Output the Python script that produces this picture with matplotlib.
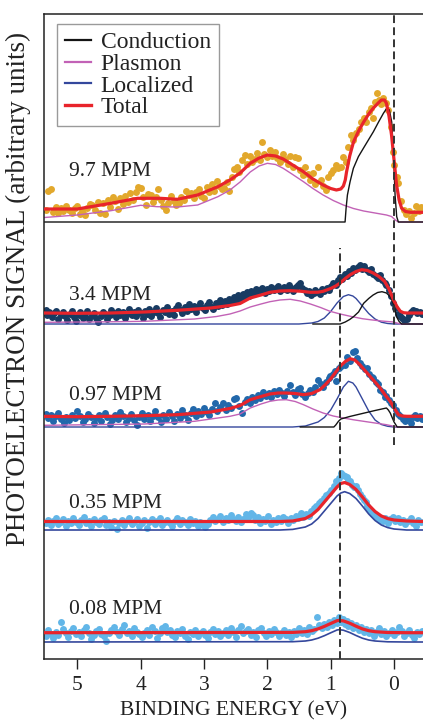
import matplotlib
matplotlib.use("Agg")
import matplotlib.pyplot as plt
from matplotlib.lines import Line2D

plt.rcParams['font.family'] = ['Liberation Serif', 'DejaVu Serif']

# ---------------- data ----------------
trace_labels = ["9.7 MPM", "3.4 MPM", "0.97 MPM", "0.35 MPM", "0.08 MPM"]
offsets = [437, 335, 232, 129, 17]
label_y = [487, 364, 264, 156, 50]
label_x = 5.13
xticks = [5, 4, 3, 2, 1, 0]
dash_x = [0.0, 0.85]
dash_ymin = [214, 0]
dash_ymax = [645, 411]

# ---- 9.7 MPM ----
c97_x = [5.52, 0.773, 0.757, 0.736, 0.694, 0.642, 0.563, 0.484, 0.405, 0.326, 0.247, 0.168, 0.115, 0.074, 0.037, 0.01, -0.016, -0.042, -0.068, -0.46]
c97_h = [0, 0, 13.7, 27, 40.3, 53.7, 65.3, 73.7, 82, 90.3, 99.7, 108.7, 113.7, 112, 100, 70, 27, 5.3, 0, 0]
p97_x = [5.52, 5.0, 4.47, 4.0, 3.74, 3.42, 3.1, 2.78, 2.59, 2.43, 2.27, 2.13, 2.0, 1.87, 1.75, 1.6, 1.43, 1.28, 1.12, 0.96, 0.8, 0.64, 0.48, 0.3, 0.12, 0.04, -0.02, -0.07, -0.46]
p97_h = [4.5, 7, 11.3, 16.7, 15.3, 15, 17, 25.3, 32, 40, 50, 56, 58.7, 57.5, 53.7, 47.5, 40.3, 33.5, 27, 21.5, 17, 13.5, 11, 9, 7, 5.5, 2, 0, 0]
t97_x = [5.52, 5.0, 4.47, 4.05, 3.69, 3.42, 3.1, 2.78, 2.59, 2.43, 2.27, 2.13, 2.0, 1.87, 1.75, 1.6, 1.43, 1.28, 1.12, 1.0, 0.91, 0.84, 0.8, 0.77, 0.75, 0.7, 0.64, 0.56, 0.48, 0.4, 0.33, 0.25, 0.2, 0.15, 0.12, 0.08, 0.04, 0.0, -0.04, -0.08, -0.12, -0.18, -0.26, -0.46]
t97_h = [13, 13, 18.7, 23.7, 23.7, 22.7, 27, 35.3, 42, 49, 58.7, 64, 67, 66, 63, 57, 50.3, 43, 37, 33.5, 32, 33, 36, 42, 50, 66, 80, 91, 100, 108, 113.7, 119, 122, 122, 118.7, 106, 87, 62, 37, 22, 13.7, 10.5, 9.7, 9.7]
pts97 = [(5.50, 12), (5.46, 31), (5.42, 33), (5.38, 10), (5.34, 15), (5.30, 9), (5.26, 14), (5.22, 11), (5.17, 16), (5.13, 12), (5.08, 9), (5.04, 14), (5.00, 16), (4.96, 8), (4.92, 11), (4.88, 7), (4.84, 14), (4.80, 18), (4.76, 17), (4.72, 12), (4.68, 20), (4.64, 9), (4.60, 19), (4.56, 8), (4.52, 22), (4.48, 15), (4.44, 25), (4.40, 21), (4.36, 13), (4.32, 24), (4.28, 18), (4.24, 26), (4.20, 20), (4.16, 29), (4.12, 22), (4.08, 30), (4.04, 35), (4.00, 34), (3.96, 25), (3.92, 17), (3.88, 28), (3.84, 27), (3.80, 20), (3.76, 25), (3.72, 33), (3.68, 22), (3.64, 16), (3.60, 12), (3.56, 19), (3.52, 26), (3.48, 21), (3.44, 17), (3.40, 19), (3.36, 25), (3.32, 22), (3.28, 31), (3.24, 27), (3.20, 29), (3.16, 24), (3.12, 30), (3.08, 33), (3.04, 26), (3.00, 24), (2.96, 35), (2.92, 30), (2.88, 38), (2.84, 31), (2.80, 41), (2.76, 36), (2.72, 33), (2.68, 34), (2.64, 40), (2.60, 31), (2.56, 45), (2.52, 53), (2.48, 55), (2.44, 50), (2.40, 62), (2.36, 67), (2.32, 58), (2.28, 66), (2.24, 60), (2.20, 63), (2.16, 69), (2.12, 62), (2.09, 80), (2.05, 68), (2.00, 65), (1.96, 72), (1.92, 66), (1.88, 70), (1.84, 64), (1.80, 60), (1.76, 68), (1.72, 63), (1.68, 58), (1.64, 66), (1.60, 55), (1.56, 65), (1.52, 64), (1.48, 52), (1.44, 47), (1.40, 55), (1.36, 48), (1.32, 42), (1.28, 49), (1.24, 38), (1.20, 55), (1.16, 42), (1.12, 36), (1.08, 32), (1.04, 45), (1.00, 49), (0.96, 52), (0.92, 57), (0.88, 54), (0.84, 55), (0.80, 65), (0.76, 60), (0.72, 75), (0.68, 87), (0.64, 82), (0.60, 89), (0.56, 93), (0.52, 100), (0.48, 104), (0.44, 100), (0.40, 110), (0.37, 114), (0.33, 104), (0.30, 120), (0.27, 129), (0.24, 122), (0.20, 118), (0.17, 124), (0.13, 119), (0.09, 112), (0.05, 95), (0.02, 70), (0.00, 57), (-0.04, 45), (-0.07, 39), (-0.11, 21), (-0.15, 12), (-0.19, 8), (-0.23, 11), (-0.27, 4), (-0.31, 9), (-0.35, 16), (-0.39, 11), (-0.43, 15)]

# ---- 3.4 MPM ----
l34_x = [5.52, 1.5, 1.3, 1.2, 1.1, 1.0, 0.9, 0.8, 0.72, 0.65, 0.6, 0.5, 0.4, 0.3, 0.2, 0.1, 0.0, -0.46]
l34_h = [0, 0, 1, 2.5, 6, 12.5, 21, 27.5, 29.3, 28, 25.5, 18, 10.5, 5, 1.8, 0.5, 0, 0]
c34_x = [1.28, 0.85, 0.77, 0.70, 0.64, 0.56, 0.48, 0.40, 0.33, 0.26, 0.19, 0.12, 0.06, 0.02, 0.0, -0.04, -0.08, -0.12, -0.46]
c34_h = [0, 0, 2, 4.5, 7.3, 12, 20.7, 25.5, 29, 31.5, 32.3, 31, 27.3, 22, 18, 7.3, 2.5, 0, 0]
p34_x = [5.52, 4.5, 3.94, 3.15, 2.8, 2.59, 2.43, 2.27, 2.1, 1.96, 1.8, 1.64, 1.48, 1.32, 1.16, 1.01, 0.85, 0.69, 0.5, 0.38, 0.2, 0.01, -0.1, -0.46]
p34_h = [1.7, 2.2, 2.7, 5, 7.5, 10, 13, 17, 20, 22.3, 24, 24.7, 23, 20, 16.5, 12.7, 10, 7.7, 5.3, 4.3, 3, 2, 0, 0]
t34_x = [5.52, 5.0, 4.47, 3.94, 3.42, 2.89, 2.59, 2.43, 2.27, 2.1, 1.96, 1.8, 1.64, 1.48, 1.32, 1.2, 1.12, 1.0, 0.92, 0.85, 0.77, 0.69, 0.6, 0.51, 0.42, 0.33, 0.24, 0.15, 0.08, 0.01, -0.05, -0.1, -0.15, -0.2, -0.46]
t34_h = [11, 10.7, 11, 12, 13.7, 16, 18.5, 20.5, 26, 29, 31.7, 33, 33.3, 32.8, 31.7, 31.8, 32.7, 35.5, 38, 41, 45.5, 49.3, 52.5, 54.3, 53.5, 51, 47.5, 42.7, 35, 24.3, 17, 12.7, 11.3, 11, 11]
pts34 = [(5.50, 14), (5.47, 9), (5.44, 12), (5.40, 7), (5.37, 11), (5.33, 13), (5.30, 5), (5.26, 9), (5.23, 12), (5.19, 8), (5.16, 4), (5.12, 10), (5.09, 13), (5.05, 7), (5.02, 3), (4.98, 9), (4.95, 12), (4.91, 6), (4.88, 8), (4.84, 13), (4.81, 5), (4.77, 9), (4.74, 11), (4.70, 6), (4.67, 2), (4.63, 8), (4.60, 12), (4.56, 10), (4.53, 5), (4.49, 9), (4.46, 14), (4.42, 11), (4.39, 7), (4.35, 13), (4.32, 9), (4.28, 12), (4.25, 6), (4.21, 10), (4.18, 15), (4.14, 9), (4.11, 12), (4.07, 8), (4.04, 14), (4.00, 11), (3.97, 6), (3.93, 13), (3.90, 10), (3.86, 15), (3.83, 8), (3.79, 12), (3.76, 16), (3.72, 11), (3.69, 7), (3.65, 14), (3.62, 12), (3.58, 17), (3.55, 10), (3.51, 13), (3.48, 9), (3.44, 16), (3.41, 19), (3.37, 14), (3.34, 11), (3.30, 17), (3.27, 13), (3.23, 20), (3.20, 15), (3.16, 18), (3.13, 12), (3.09, 17), (3.06, 21), (3.02, 16), (2.99, 14), (2.95, 19), (2.92, 22), (2.88, 17), (2.85, 15), (2.81, 21), (2.78, 18), (2.74, 24), (2.71, 19), (2.67, 23), (2.64, 20), (2.60, 25), (2.57, 22), (2.53, 27), (2.50, 24), (2.46, 29), (2.43, 26), (2.39, 30), (2.36, 27), (2.32, 32), (2.29, 28), (2.25, 33), (2.22, 30), (2.18, 35), (2.15, 32), (2.11, 34), (2.08, 36), (2.04, 31), (2.01, 35), (1.97, 33), (1.94, 37), (1.90, 34), (1.87, 36), (1.83, 38), (1.80, 33), (1.76, 35), (1.73, 37), (1.69, 34), (1.66, 39), (1.62, 36), (1.59, 33), (1.55, 37), (1.52, 39), (1.48, 41), (1.45, 36), (1.41, 34), (1.38, 31), (1.34, 33), (1.31, 29), (1.27, 31), (1.24, 34), (1.20, 32), (1.17, 30), (1.13, 35), (1.10, 33), (1.06, 36), (1.03, 34), (0.99, 38), (0.96, 41), (0.92, 39), (0.89, 44), (0.85, 47), (0.82, 45), (0.78, 50), (0.75, 48), (0.71, 53), (0.68, 51), (0.64, 56), (0.61, 54), (0.57, 57), (0.54, 59), (0.50, 55), (0.47, 58), (0.43, 54), (0.40, 52), (0.36, 55), (0.33, 50), (0.29, 48), (0.26, 46), (0.22, 49), (0.19, 44), (0.15, 41), (0.12, 39), (0.08, 34), (0.05, 28), (0.01, 21), (-0.02, 16), (-0.06, 10), (-0.09, 8), (-0.13, 6), (-0.16, 4), (-0.20, 5), (-0.23, 9), (-0.27, 12), (-0.30, 14), (-0.34, 13), (-0.37, 11), (-0.41, 12), (-0.44, 10)]

# ---- 0.97 MPM ----
l097_x = [5.52, 1.6, 1.4, 1.2, 1.1, 1.0, 0.9, 0.8, 0.72, 0.65, 0.6, 0.5, 0.4, 0.3, 0.2, 0.1, 0.0, -0.46]
l097_h = [0, 0, 1, 5, 9.5, 17, 28, 40, 45.7, 44, 40, 28, 16, 7, 2.5, 0.7, 0, 0]
c097_x = [1.48, 0.95, 0.92, 0.88, 0.84, 0.7, 0.5, 0.3, 0.12, 0.09, 0.06, 0.03, 0.0, -0.05, -0.46]
c097_h = [0, 0, 2, 5.5, 8, 10.5, 13.5, 16.5, 19, 17, 14, 9.5, 5, 0, 0]
p097_x = [5.52, 3.94, 3.15, 2.59, 2.43, 2.27, 2.1, 1.96, 1.83, 1.7, 1.56, 1.43, 1.28, 1.12, 0.96, 0.8, 0.64, 0.48, 0.3, 0.12, -0.05, -0.46]
p097_h = [1.7, 3, 5.7, 10.7, 13, 19, 23, 25.7, 27, 27.3, 25.5, 22.3, 18, 14, 11, 9, 7.2, 5.7, 4, 2.3, 0, 0]
t097_x = [5.52, 5.0, 4.47, 3.94, 3.42, 2.89, 2.59, 2.43, 2.27, 2.1, 1.96, 1.83, 1.7, 1.56, 1.43, 1.3, 1.17, 1.09, 1.01, 0.93, 0.85, 0.77, 0.69, 0.62, 0.54, 0.46, 0.38, 0.3, 0.22, 0.14, 0.06, 0.0, -0.07, -0.13, -0.2, -0.46]
t097_h = [10.7, 10.3, 10.7, 11.3, 12.3, 15, 18.5, 21.5, 27.3, 30.5, 33, 34, 34, 33.5, 32.3, 33.5, 37.3, 42, 47.3, 54, 60.7, 65.5, 68.3, 67, 62.3, 56.5, 50.7, 45, 39, 32, 25.7, 19, 12.3, 11, 10.7, 10.7]
pts097 = [(5.50, 13), (5.46, 9), (5.42, 12), (5.38, 6), (5.34, 11), (5.30, 14), (5.25, 8), (5.21, 4), (5.17, 10), (5.13, 7), (5.08, 12), (5.04, 9), (5.00, 16), (4.96, 11), (4.91, 5), (4.87, 8), (4.83, 13), (4.79, 10), (4.74, 4), (4.70, 9), (4.66, 12), (4.62, 6), (4.57, 14), (4.53, 10), (4.49, 3), (4.45, 7), (4.40, 12), (4.36, 8), (4.32, 15), (4.28, 11), (4.23, 5), (4.19, 9), (4.15, 13), (4.11, 7), (4.06, 2), (4.02, 10), (3.98, 14), (3.94, 8), (3.89, 12), (3.85, 6), (3.81, 11), (3.77, 16), (3.72, 10), (3.68, 5), (3.64, 12), (3.60, 8), (3.55, 15), (3.51, 11), (3.47, 6), (3.43, 13), (3.38, 9), (3.34, 17), (3.30, 12), (3.26, 7), (3.21, 14), (3.17, 18), (3.13, 11), (3.09, 16), (3.04, 13), (3.00, 19), (2.96, 15), (2.92, 12), (2.87, 18), (2.83, 24), (2.79, 16), (2.75, 20), (2.70, 24), (2.66, 17), (2.62, 22), (2.58, 19), (2.53, 28), (2.50, 29), (2.45, 21), (2.40, 14), (2.36, 25), (2.32, 28), (2.28, 24), (2.24, 30), (2.19, 27), (2.15, 32), (2.11, 29), (2.07, 35), (2.02, 31), (1.98, 34), (1.94, 30), (1.90, 36), (1.85, 33), (1.81, 37), (1.77, 34), (1.73, 31), (1.69, 36), (1.64, 42), (1.60, 35), (1.56, 32), (1.52, 38), (1.49, 39), (1.45, 33), (1.41, 30), (1.36, 34), (1.32, 37), (1.28, 35), (1.24, 40), (1.20, 47), (1.16, 43), (1.12, 40), (1.07, 45), (1.03, 49), (1.01, 51), (0.97, 53), (0.93, 56), (0.91, 46), (0.87, 59), (0.83, 61), (0.78, 62), (0.74, 70), (0.69, 66), (0.65, 75), (0.62, 76), (0.58, 69), (0.54, 64), (0.50, 61), (0.46, 58), (0.43, 59), (0.39, 53), (0.35, 50), (0.33, 49), (0.29, 45), (0.26, 43), (0.22, 37), (0.18, 35), (0.15, 30), (0.12, 31), (0.08, 27), (0.05, 24), (0.01, 22), (-0.03, 17), (-0.06, 13), (-0.10, 11), (-0.14, 8), (-0.18, 6), (-0.22, 9), (-0.26, 4), (-0.30, 10), (-0.33, 12), (-0.37, 9), (-0.41, 11), (-0.44, 8)]

# ---- 0.35 MPM ----
l035_x = [5.52, 1.8, 1.6, 1.4, 1.3, 1.2, 1.1, 1.0, 0.9, 0.84, 0.78, 0.7, 0.6, 0.5, 0.4, 0.3, 0.2, 0.1, 0.0, -0.2, -0.46]
l035_h = [0, 0, 0.6, 3, 6, 11.5, 19, 26.5, 34, 37, 38.3, 36.5, 31.5, 24, 16, 9.5, 5, 2.4, 1, 0, 0]
t035_h = [8.5, 8.5, 9, 11.5, 15, 20.5, 28, 35.5, 43, 46.5, 47.5, 45.5, 40.5, 33, 25, 18.5, 14, 11.4, 10, 9, 8.5]
pts035 = [(5.50, 7), (5.46, 10), (5.42, 5), (5.38, 9), (5.34, 12), (5.30, 6), (5.26, 8), (5.22, 11), (5.18, 4), (5.14, 9), (5.10, 7), (5.06, 12), (5.02, 8), (4.98, 5), (4.94, 10), (4.90, 13), (4.86, 7), (4.82, 9), (4.78, 4), (4.74, 11), (4.70, 8), (4.66, 6), (4.62, 10), (4.58, 12), (4.54, 5), (4.50, 8), (4.46, 3), (4.42, 9), (4.38, 1), (4.34, 7), (4.30, 10), (4.26, 5), (4.22, 9), (4.18, 12), (4.14, 6), (4.10, 8), (4.06, 11), (4.02, 4), (3.98, 7), (3.94, 10), (3.90, 2), (3.86, 8), (3.82, 11), (3.78, 6), (3.74, 9), (3.70, 12), (3.66, 5), (3.62, 8), (3.58, 10), (3.54, 7), (3.50, 4), (3.46, 9), (3.42, 12), (3.38, 6), (3.34, 10), (3.30, 8), (3.26, 5), (3.22, 11), (3.18, 7), (3.14, 9), (3.10, 4), (3.06, 8), (3.02, 5), (2.98, 3), (2.94, 6), (2.90, 10), (2.86, 13), (2.82, 9), (2.78, 11), (2.74, 14), (2.70, 8), (2.66, 12), (2.62, 10), (2.58, 15), (2.54, 11), (2.50, 9), (2.46, 13), (2.42, 8), (2.38, 11), (2.34, 16), (2.30, 12), (2.26, 17), (2.23, 15), (2.19, 10), (2.15, 13), (2.11, 7), (2.07, 11), (2.03, 9), (1.99, 14), (1.95, 6), (1.91, 10), (1.87, 8), (1.83, 12), (1.79, 9), (1.75, 13), (1.71, 11), (1.67, 7), (1.63, 12), (1.59, 10), (1.55, 14), (1.51, 12), (1.47, 17), (1.43, 13), (1.39, 16), (1.35, 14), (1.31, 19), (1.27, 22), (1.23, 24), (1.19, 27), (1.15, 29), (1.11, 32), (1.07, 35), (1.03, 37), (0.99, 40), (0.95, 44), (0.91, 49), (0.87, 52), (0.84, 57), (0.81, 55), (0.78, 54), (0.75, 53), (0.72, 50), (0.69, 49), (0.66, 45), (0.63, 43), (0.60, 44), (0.57, 40), (0.54, 36), (0.51, 33), (0.48, 30), (0.45, 28), (0.42, 24), (0.39, 21), (0.36, 19), (0.33, 16), (0.30, 14), (0.26, 12), (0.22, 10), (0.18, 9), (0.14, 12), (0.10, 7), (0.06, 11), (0.02, 13), (-0.02, 9), (-0.06, 12), (-0.10, 8), (-0.14, 10), (-0.18, 6), (-0.22, 9), (-0.26, 12), (-0.30, 7), (-0.34, 4), (-0.38, 10), (-0.42, 8)]

# ---- 0.08 MPM ----
l008_x = [5.52, 1.6, 1.4, 1.3, 1.2, 1.1, 1.0, 0.9, 0.87, 0.8, 0.7, 0.6, 0.5, 0.4, 0.3, 0.1, -0.2, -0.46]
l008_h = [0, 0.3, 1, 2, 3.8, 6.3, 9.2, 12, 12.3, 11.8, 9.5, 6.5, 3.8, 2, 1, 0.2, 0, 0]
t008_h = [9.3, 9.6, 10.3, 11.3, 13.1, 15.6, 18.5, 21.3, 21.6, 21.1, 18.8, 15.8, 13.1, 11.3, 10.3, 9.5, 9.3, 9.3]
pts008 = [(5.50, 6), (5.46, 12), (5.42, 8), (5.38, 4), (5.34, 10), (5.30, 7), (5.26, 20), (5.22, 13), (5.18, 9), (5.14, 5), (5.10, 11), (5.06, 14), (5.02, 8), (4.98, 10), (4.94, 6), (4.90, 12), (4.86, 15), (4.82, 9), (4.78, 3), (4.74, 7), (4.70, 11), (4.66, 13), (4.62, 8), (4.58, 6), (4.54, 1), (4.50, 9), (4.46, 12), (4.42, 15), (4.38, 10), (4.34, 7), (4.30, 13), (4.26, 17), (4.22, 9), (4.18, 11), (4.14, 6), (4.10, 14), (4.06, 10), (4.02, 8), (3.98, 5), (3.94, 9), (3.90, 12), (3.86, 7), (3.82, 15), (3.78, 11), (3.74, 4), (3.70, 9), (3.66, 14), (3.62, 16), (3.58, 10), (3.54, 12), (3.50, 7), (3.46, 5), (3.42, 11), (3.38, 9), (3.34, 13), (3.30, 6), (3.26, 3), (3.22, 10), (3.18, 8), (3.14, 12), (3.10, 6), (3.06, 9), (3.02, 11), (2.98, 7), (2.94, 4), (2.90, 10), (2.86, 13), (2.82, 8), (2.78, 11), (2.74, 6), (2.70, 9), (2.66, 12), (2.62, 7), (2.58, 14), (2.54, 10), (2.50, 5), (2.46, 12), (2.42, 16), (2.38, 9), (2.34, 11), (2.30, 13), (2.26, 7), (2.22, 10), (2.18, 5), (2.14, 12), (2.10, 14), (2.06, 9), (2.02, 6), (1.98, 11), (1.94, 8), (1.90, 13), (1.86, 10), (1.82, 6), (1.78, 9), (1.74, 12), (1.70, 7), (1.66, 10), (1.62, 5), (1.58, 11), (1.54, 8), (1.50, 14), (1.46, 9), (1.42, 12), (1.38, 8), (1.34, 15), (1.30, 11), (1.26, 13), (1.22, 25), (1.18, 17), (1.14, 14), (1.10, 18), (1.06, 15), (1.02, 20), (0.98, 17), (0.94, 22), (0.90, 19), (0.87, 25), (0.84, 20), (0.81, 23), (0.78, 18), (0.75, 21), (0.72, 16), (0.68, 19), (0.64, 14), (0.60, 17), (0.56, 12), (0.52, 15), (0.48, 10), (0.44, 13), (0.40, 9), (0.36, 12), (0.32, 6), (0.28, 10), (0.24, 14), (0.20, 8), (0.16, 11), (0.12, 6), (0.08, 9), (0.04, 12), (0.00, 7), (-0.04, 10), (-0.08, 15), (-0.12, 11), (-0.16, 6), (-0.20, 9), (-0.24, 12), (-0.28, 7), (-0.32, 4), (-0.36, 10), (-0.40, 8), (-0.44, 11)]

# ---------------- style ----------------
C_COND = '#141414'
C_PLAS = '#c262b6'
C_LOC = '#34479c'
C_TOT = '#e8242b'
dot_colors = ['#e2a82c', '#183b62', '#2268ab', '#62b6e8', '#62b6e8']
FS = 15.5

fig = plt.figure(figsize=(4.23, 7.21), dpi=100)
ax = fig.add_axes([44 / 423, 62 / 721, 1 - 44 / 423, 645 / 721])


def up(hs, off):
    return [h + off for h in hs]


def dots(pts, off, color):
    ax.scatter([p[0] for p in pts], [p[1] + off for p in pts], s=25,
               color=color, linewidths=0, zorder=1)


lw_c = 1.0
lw_t = 2.3

# 9.7
o = offsets[0]
dots(pts97, o, dot_colors[0])
ax.plot(p97_x, up(p97_h, o), color=C_PLAS, lw=lw_c, zorder=2)
ax.plot(c97_x, up(c97_h, o), color=C_COND, lw=lw_c, zorder=2)
ax.plot(t97_x, up(t97_h, o), color=C_TOT, lw=lw_t, zorder=3)

# 3.4
o = offsets[1]
dots(pts34, o, dot_colors[1])
ax.plot(l34_x, up(l34_h, o), color=C_LOC, lw=lw_c, zorder=2)
ax.plot(p34_x, up(p34_h, o), color=C_PLAS, lw=lw_c, zorder=2)
ax.plot(c34_x, up(c34_h, o), color=C_COND, lw=lw_c, zorder=2)
ax.plot(t34_x, up(t34_h, o), color=C_TOT, lw=lw_t, zorder=3)

# 0.97
o = offsets[2]
dots(pts097, o, dot_colors[2])
ax.plot(l097_x, up(l097_h, o), color=C_LOC, lw=lw_c, zorder=2)
ax.plot(p097_x, up(p097_h, o), color=C_PLAS, lw=lw_c, zorder=2)
ax.plot(c097_x, up(c097_h, o), color=C_COND, lw=lw_c, zorder=2)
ax.plot(t097_x, up(t097_h, o), color=C_TOT, lw=lw_t, zorder=3)

# 0.35
o = offsets[3]
dots(pts035, o, dot_colors[3])
ax.plot(l035_x, up(l035_h, o), color=C_LOC, lw=1.2, zorder=2)
ax.plot(l035_x, up(t035_h, o), color=C_TOT, lw=lw_t, zorder=3)

# 0.08
o = offsets[4]
dots(pts008, o, dot_colors[4])
ax.plot(l008_x, up(l008_h, o), color=C_LOC, lw=1.2, zorder=2)
ax.plot(l008_x, up(t008_h, o), color=C_TOT, lw=lw_t, zorder=3)

# dashed guide lines
for xd, y0, y1 in zip(dash_x, dash_ymin, dash_ymax):
    ax.plot([xd, xd], [y0, y1], color='#333333', lw=1.4,
            linestyle=(0, (4, 2.2)), zorder=4)

for lab, ly in zip(trace_labels, label_y):
    ax.text(label_x, ly, lab, fontsize=FS, color='#222222', ha='left', va='center')

ax.set_xlim(5.525, -0.457)
ax.set_ylim(0, 645)
ax.set_xticks(xticks)
ax.set_xticklabels([str(t) for t in xticks])
ax.set_yticks([])
ax.tick_params(axis='x', direction='out', length=7, width=1.0, pad=5,
               labelsize=FS, colors='#222222')
for s in ['left', 'top', 'bottom']:
    ax.spines[s].set_linewidth(1.1)
    ax.spines[s].set_color('#222222')
ax.spines['right'].set_visible(False)
ax.set_xlabel('BINDING ENERGY (eV)', fontsize=FS, color='#222222', labelpad=4.5)
fig.text(18 / 423, 1 - 289 / 721, 'PHOTOELECTRON SIGNAL (arbitrary units)',
         rotation=90, ha='center', va='center', fontsize=19.5, color='#222222')

handles = [Line2D([], [], color=C_COND, lw=1.6),
           Line2D([], [], color=C_PLAS, lw=1.6),
           Line2D([], [], color=C_LOC, lw=1.6),
           Line2D([], [], color=C_TOT, lw=2.4)]
leg = ax.legend(handles, ['Conduction', 'Plasmon', 'Localized', 'Total'],
                loc='upper left', bbox_to_anchor=(0.034, 0.985), borderaxespad=0,
                fontsize=17, frameon=True, fancybox=False, framealpha=1,
                edgecolor='#9a9a9a', handlelength=1.1, handletextpad=0.4,
                labelspacing=0.0, borderpad=0.35)
leg.get_frame().set_linewidth(1.0)
for t in leg.get_texts():
    t.set_color('#222222')

fig.savefig('out.png', dpi=100)
